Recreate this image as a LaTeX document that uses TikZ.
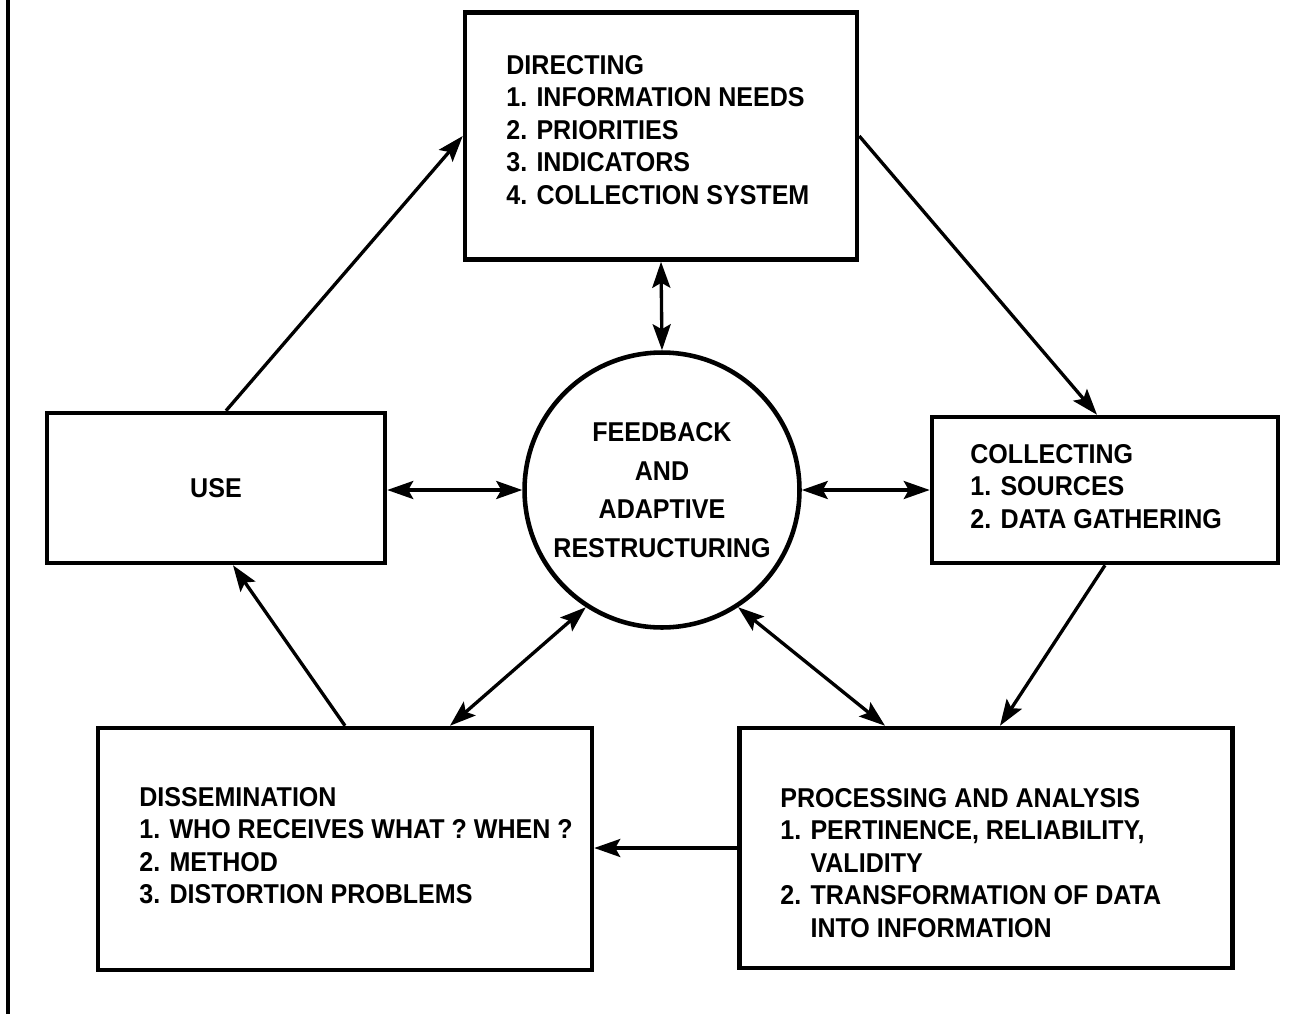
\documentclass[tikz,border=0pt]{standalone}
\usepackage{fontspec}
\newfontfamily\diagfont[FakeStretch=0.92]{Liberation Sans}
\usetikzlibrary{arrows.meta, positioning}

\begin{document}
\begin{tikzpicture}[
    x=0.02cm, y=-0.02cm,
    stage/.style={
        rectangle,
        draw=black,
        line width=2.6pt,
        inner sep=0pt
    },
    stagetext/.style={
        anchor=north west,
        align=left,
        inner sep=0pt,
        font=\diagfont\bfseries\fontsize{15.5}{18.5}\selectfont
    },
    hub/.style={
        circle,
        draw=black,
        line width=2.6pt,
        minimum size=5.5cm,
        inner sep=0pt,
        align=center,
        font=\diagfont\bfseries\fontsize{15.5}{22}\selectfont
    },
    flow/.style={
        line width=1.9pt,
        -{Stealth[length=0.52cm, width=0.36cm, inset=0.1cm]}
    },
    mutual/.style={
        line width=1.9pt,
        {Stealth[length=0.52cm, width=0.36cm, inset=0.1cm]}-{Stealth[length=0.52cm, width=0.36cm, inset=0.1cm]}
    }
]
\useasboundingbox (0,0) rectangle (1294,1014);

% Margin rule
\draw[line width=2.4pt] (8,0) -- (8,1014);

% Stages of the cycle
\node[stage, minimum width=7.84cm, minimum height=4.94cm] (direct) at (661,136) {};
\node[stage, minimum width=6.92cm, minimum height=2.92cm] (collect) at (1105,490) {};
\node[stage, minimum width=9.86cm, minimum height=4.8cm] (proc) at (986,848) {};
\node[stage, minimum width=9.88cm, minimum height=4.84cm] (diss) at (345,849) {};
\node[stage, minimum width=6.76cm, minimum height=3cm,
      font=\diagfont\bfseries\fontsize{15.5}{18.5}\selectfont] (use) at (216,488) {USE};

% Stage texts
\node[stagetext] (directtxt) at (506,55)
    {DIRECTING\\1. INFORMATION NEEDS\\2. PRIORITIES\\3. INDICATORS\\4. COLLECTION SYSTEM};
\node[stagetext] (collecttxt) at (970,444)
    {COLLECTING\\1. SOURCES\\2. DATA GATHERING};
\node[stagetext] (proctxt) at (780,788)
    {PROCESSING AND ANALYSIS\\1. PERTINENCE, RELIABILITY,\\\phantom{1. }VALIDITY\\2. TRANSFORMATION OF DATA\\\phantom{2. }INTO INFORMATION};
\node[stagetext] (disstxt) at (139,787)
    {DISSEMINATION\\1. WHO RECEIVES WHAT ? WHEN ?\\2. METHOD\\3. DISTORTION PROBLEMS};

% Centre
\node[hub] (hub) at (662,490) {FEEDBACK\\AND\\ADAPTIVE\\RESTRUCTURING};

% Cycle arrows
\draw[flow] ([xshift=0.2cm]use.north) -- (direct.west);
\draw[flow] (direct.east) -- ([xshift=-0.16cm]collect.north);
\draw[flow] (collect.south) -- ([xshift=0.28cm]proc.north);
\draw[flow] (proc.west) -- (proc.west -| diss.east);
\draw[flow] (diss.north) -- ([xshift=0.34cm]use.south);

% Feedback arrows
\draw[mutual] (direct.south) -- (hub.north);
\draw[mutual] (hub.west -| use.east) -- (hub.west);
\draw[mutual] (hub.east) -- (collect.west);
\draw[mutual] (hub.-123) -- ([xshift=2.1cm]diss.north);
\draw[mutual] (hub.-57) -- ([xshift=-2.02cm]proc.north);

\end{tikzpicture}
\end{document}
